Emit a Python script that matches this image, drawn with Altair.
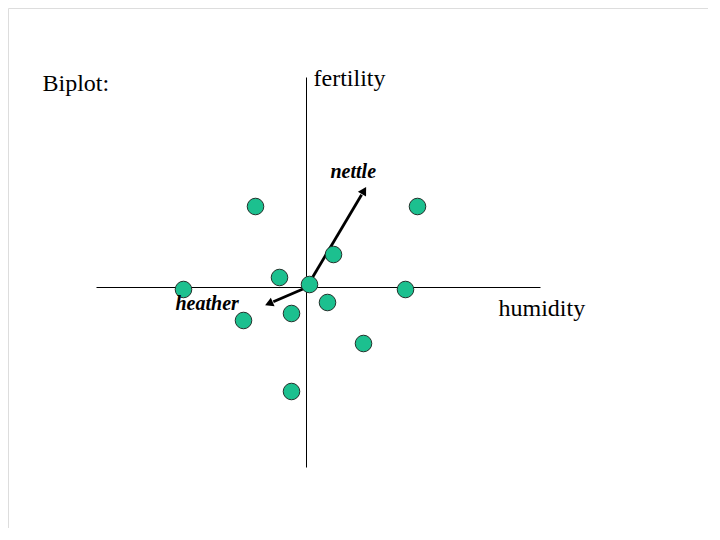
import altair as alt
import pandas as pd
import numpy as np

# Site scores (biplot units)
site_x = [-1.275, 2.775, 0.675, -0.675, 0.075, -3.075, 2.475, 0.525, -0.375, -1.575, 1.425, -0.375]
site_y = [2.025, 2.025, 0.825, 0.25, 0.075, -0.05, -0.05, -0.375, -0.65, -0.825, -1.4, -2.6]

# Species arrows (from origin)
species = ["nettle", "heather"]
arrow_x = [1.5, -1.05]
arrow_y = [2.525, -0.45]
label_x = [0.6, -3.275]
label_y = [2.75, -0.55]

# Axis lines
axis_names = ["humidity", "fertility"]
axis_x1 = [-5.25, 0.0]
axis_x2 = [5.85, 0.0]
axis_y1 = [0.0, -4.5]
axis_y2 = [0.0, 5.25]
axis_label_x = [4.8, 0.175]
axis_label_y = [-0.7, 5.05]

title_text = ["Biplot:"]
title_x = [-6.6]
title_y = [4.925]

XD = [-7.4625, 10.0375]
YD = [-6.0125, 6.9875]

xs = alt.Scale(domain=XD, nice=False, zero=False)
ys = alt.Scale(domain=YD, nice=False, zero=False)

sites = pd.DataFrame({"x": site_x, "y": site_y})

arr = pd.DataFrame({"sp": species, "x0": [0.0, 0.0], "y0": [0.0, 0.0],
                    "x": arrow_x, "y": arrow_y, "lx": label_x, "ly": label_y})
ang = np.degrees(np.arctan2(arr["x"], arr["y"]))
arr["angle"] = (ang + 360) % 360
L = np.hypot(arr["x"], arr["y"])
back = 0.12
arr["hx"] = arr["x"] - back * arr["x"] / L
arr["hy"] = arr["y"] - back * arr["y"] / L
arr["ex"] = arr["x"] - 2 * back * arr["x"] / L
arr["ey"] = arr["y"] - 2 * back * arr["y"] / L

axes = pd.DataFrame({"name": axis_names, "x1": axis_x1, "x2": axis_x2,
                     "y1": axis_y1, "y2": axis_y2,
                     "lx": axis_label_x, "ly": axis_label_y})
titles = pd.DataFrame({"t": title_text, "x": title_x, "y": title_y})

axis_rules = alt.Chart(axes).mark_rule(color="black", strokeWidth=1).encode(
    x=alt.X("x1:Q", scale=xs, axis=None), x2="x2:Q",
    y=alt.Y("y1:Q", scale=ys, axis=None), y2="y2:Q")

axis_labels = alt.Chart(axes).mark_text(
    font="Liberation Serif", fontSize=24, align="left", baseline="alphabetic", color="black"
).encode(x=alt.X("lx:Q", scale=xs, axis=None), y=alt.Y("ly:Q", scale=ys, axis=None), text="name:N")

title_mark = alt.Chart(titles).mark_text(
    font="Liberation Serif", fontSize=24, align="left", baseline="alphabetic", color="black"
).encode(x=alt.X("x:Q", scale=xs, axis=None), y=alt.Y("y:Q", scale=ys, axis=None), text="t:N")

points = alt.Chart(sites).mark_point(
    filled=True, shape="circle", size=275, fill="#1CC08F", stroke="#22302a",
    strokeWidth=1, opacity=1
).encode(x=alt.X("x:Q", scale=xs, axis=None), y=alt.Y("y:Q", scale=ys, axis=None))

arrow_lines = alt.Chart(arr).mark_rule(color="black", strokeWidth=2.8).encode(
    x=alt.X("x0:Q", scale=xs, axis=None), x2="ex:Q",
    y=alt.Y("y0:Q", scale=ys, axis=None), y2="ey:Q")

arrow_heads = alt.Chart(arr).mark_point(
    shape="triangle-up", filled=True, color="black", size=90, opacity=1
).encode(x=alt.X("hx:Q", scale=xs, axis=None), y=alt.Y("hy:Q", scale=ys, axis=None),
         angle=alt.Angle("angle:Q", scale=None))

arrow_labels = alt.Chart(arr).mark_text(
    font="Liberation Serif", fontSize=20, fontStyle="italic", fontWeight="bold",
    align="left", baseline="alphabetic", color="black"
).encode(x=alt.X("lx:Q", scale=xs, axis=None), y=alt.Y("ly:Q", scale=ys, axis=None), text="sp:N")

chart = alt.layer(
    axis_rules, axis_labels, title_mark, arrow_lines, arrow_heads, points, arrow_labels
).properties(
    width=700, height=520, padding=0, autosize=alt.AutoSizeParams(type="none")
).configure_view(stroke=None, strokeWidth=0).configure(background="white")

chart.save("out.html", embed_options={"renderer": "svg", "actions": False})
